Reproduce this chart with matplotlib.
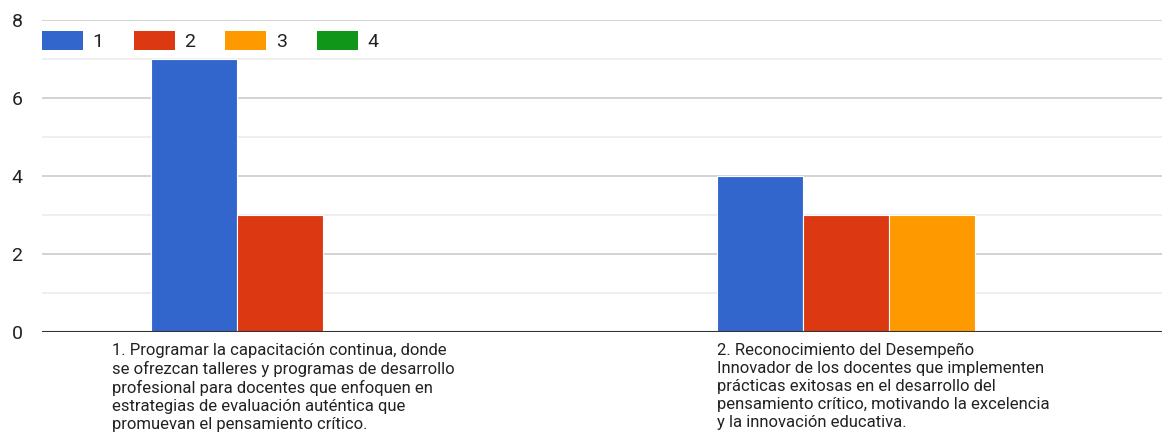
import matplotlib
matplotlib.use('Agg')
from matplotlib import pyplot as plt
from matplotlib.patches import Patch
import numpy as np

plt.rcParams['font.family'] = ['Roboto', 'DejaVu Sans']

series = ['1', '2', '3', '4']
colors = ['#3366cc', '#dc3912', '#ff9900', '#109618']
categories = [
    "1. Programar la capacitación continua, donde\n"
    "se ofrezcan talleres y programas de desarrollo\n"
    "profesional para docentes que enfoquen en\n"
    "estrategias de evaluación auténtica que\n"
    "promuevan el pensamiento crítico.",
    "2. Reconocimiento del Desempeño\n"
    "Innovador de los docentes que implementen\n"
    "prácticas exitosas en el desarrollo del\n"
    "pensamiento crítico, motivando la excelencia\n"
    "y la innovación educativa.",
]
counts = {
    '1': [7, 4],
    '2': [3, 3],
    '3': [0, 3],
    '4': [0, 0],
}

fig = plt.figure(figsize=(11.62, 4.37), dpi=100)
ax = fig.add_axes([42/1162, 105/437, 1 - 42/1162, 312/437])

x = np.arange(len(categories))
w = 0.152
for i, s in enumerate(series):
    off = (i - 1.5) * w
    ax.bar(x + off, counts[s], width=w, color=colors[i],
           edgecolor='white', linewidth=0.8, zorder=3)

ax.set_xlim(-0.497, 1.483)
ax.set_ylim(0, 8)
ax.set_yticks([0, 2, 4, 6, 8])
ax.set_yticks([1, 3, 5, 7], minor=True)
ax.grid(axis='y', which='major', color='#cccccc', linewidth=1.2, zorder=0)
ax.grid(axis='y', which='minor', color='#ebebeb', linewidth=1.2, zorder=0)
ax.axhline(0, color='#333333', linewidth=1.5, zorder=4)
for sp in ax.spines.values():
    sp.set_visible(False)
ax.tick_params(axis='y', which='both', length=0, pad=14, labelsize=14,
               labelcolor='#222222')
ax.set_xticks([])

# category labels, left aligned under each group
label_x = [-0.374, 0.697]
trans = matplotlib.transforms.blended_transform_factory(ax.transData, ax.transAxes)
for lx, txt in zip(label_x, categories):
    ax.text(lx, -0.035, txt, transform=trans, ha='left', va='top',
            fontsize=12, color='#222222', linespacing=1.24)

handles = [Patch(facecolor=c, edgecolor='none') for c in colors]
ax.legend(handles, series, loc='upper left', bbox_to_anchor=(0.0, 0.965),
          ncol=4, frameon=False, fontsize=14, handlelength=2.1,
          handleheight=1.15, handletextpad=0.5, columnspacing=1.55,
          borderpad=0, borderaxespad=0, labelcolor='#222222')

fig.savefig('out.png', dpi=100)
